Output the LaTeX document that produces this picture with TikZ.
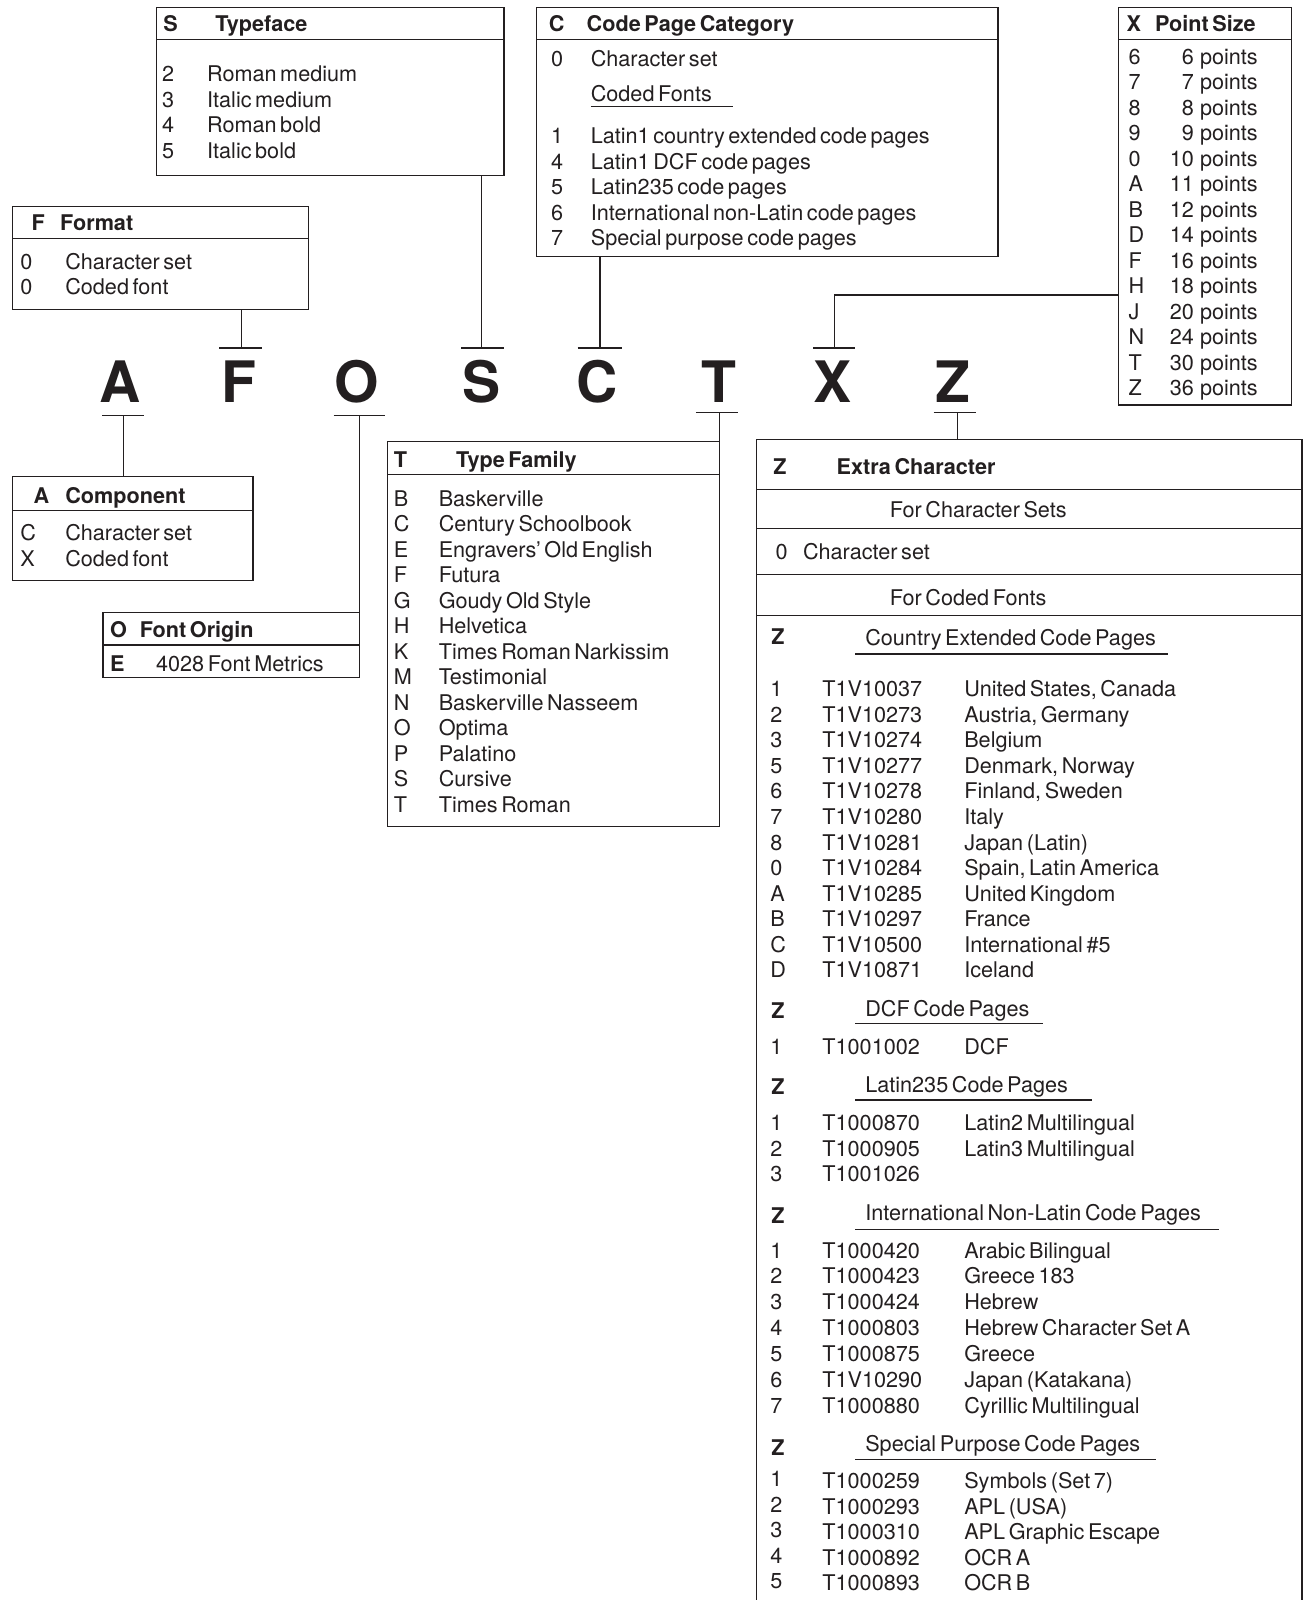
\documentclass[tikz,border=0pt]{standalone}
\usepackage{fontspec}
\setmainfont{TeX Gyre Heros}[WordSpace=0.6]
\usetikzlibrary{fit,calc}
\definecolor{ink}{RGB}{35,31,32}
\begin{document}
\begin{tikzpicture}[x=0.5pt,y=-0.5pt,line width=0.6pt,color=ink,
  t/.style={anchor=base west,inner sep=0pt,outer sep=0pt,yshift=-0.5pt,font=\fontsize{10.6}{12.5}\selectfont},
  tb/.style={t,font=\fontsize{10.6}{12.5}\selectfont\bfseries},
  tr/.style={t,anchor=base east},
  big/.style={anchor=base,inner sep=0pt,outer sep=0pt,font=\fontsize{28}{30}\selectfont\bfseries},
  box/.style={draw,inner sep=0pt,outer sep=0pt}]
\useasboundingbox (0,0) rectangle (1278,1568);

% ---------- big letters ----------
\node[big] (lA) at (118,394) {A};
\node[big] (lF) at (234,394) {F};
\node[big] (lO) at (350,394) {O};
\node[big] (lS) at (472,394) {S};
\node[big] (lC) at (585,394) {C};
\node[big] (lT) at (705,394) {T};
\node[big] (lX) at (816,394) {X};
\node[big] (lZ) at (934,394) {Z};

% ---------- S Typeface ----------
\node[box,fit={(153,7)(494,172)}] (Sbox) {};
\draw (153,39) -- (494,39);
\node[tb] (sh1) at (160,30) {S};
\node[tb] (sh2) at (211,30) {Typeface};
\foreach \c/\n [count=\k from 0] in {2/Roman medium,3/Italic medium,4/Roman bold,5/Italic bold}{
  \node[t] (sc\k) at (159,79+25*\k) {\c};
  \node[t] (sn\k) at (203,79+25*\k) {\n};
}

% ---------- C Code Page Category ----------
\node[box,fit={(526,7)(978,251)}] (Cbox) {};
\draw (526,39) -- (978,39);
\node[tb] (ch1) at (538,30) {C};
\node[tb] (ch2) at (575,30) {Code Page Category};
\node[t] (cc0) at (540,64) {0};
\node[t] (cn0) at (579,64) {Character set};
\node[t] (ccf) at (579,98) {Coded Fonts};
\draw (579,104) -- (718,104);
\foreach \c/\n [count=\k from 0] in {1/Latin1 country extended code pages,4/Latin1 DCF code pages,5/Latin235 code pages,6/International non-Latin code pages,7/Special purpose code pages}{
  \node[t] (ccc\k) at (540,140+25*\k) {\c};
  \node[t] (ccn\k) at (579,140+25*\k) {\n};
}

% ---------- X Point Size ----------
\node[box,fit={(1096,7)(1266,397)}] (Xbox) {};
\draw (1096,39) -- (1266,39);
\node[tb] (xh1) at (1104,30) {X};
\node[tb] (xh2) at (1132,30) {Point Size};
\foreach \c/\n [count=\k from 0] in {6/6,7/7,8/8,9/9,0/10,A/11,B/12,D/14,F/16,H/18,J/20,N/24,T/30,Z/36}{
  \node[t] (xc\k) at (1106,62+25*\k) {\c};
  \node[tr] (xn\k) at (1170,62+25*\k) {\n};
  \node[t] (xp\k) at (1176,62+25*\k) {points};
}

% ---------- F Format ----------
\node[box,fit={(12,202)(302,303)}] (Fbox) {};
\draw (12,234) -- (302,234);
\node[tb] (fh1) at (31,225) {F};
\node[tb] (fh2) at (59,225) {Format};
\node[t] (fc0) at (20,263) {0};
\node[t] (fn0) at (64,263) {Character set};
\node[t] (fc1) at (20,288) {0};
\node[t] (fn1) at (64,288) {Coded font};

% ---------- A Component ----------
\node[box,fit={(12,467)(248,569)}] (Abox) {};
\draw (12,500) -- (248,500);
\node[tb] (ah1) at (33,492) {A};
\node[tb] (ah2) at (64,492) {Component};
\node[t] (ac0) at (20,529) {C};
\node[t] (an0) at (64,529) {Character set};
\node[t] (ac1) at (20,554) {X};
\node[t] (an1) at (64,554) {Coded font};

% ---------- O Font Origin ----------
\node[box,fit={(101,600)(352,664)}] (Obox) {};
\draw (101,632) -- (352,632);
\node[tb] (oh1) at (108,624) {O};
\node[tb] (oh2) at (137,624) {Font Origin};
\node[tb] (oc0) at (108,657) {E};
\node[t] (on0) at (153,657) {4028 Font Metrics};

% ---------- T Type Family ----------
\node[box,fit={(380,433)(705,810)}] (Tbox) {};
\draw (380,465) -- (705,465);
\node[tb] (th1) at (386,457) {T};
\node[tb] (th2) at (447,457) {Type Family};
\foreach \c/\n [count=\k from 0] in {B/Baskerville,C/Century Schoolbook,E/Engravers’ Old English,F/Futura,G/Goudy Old Style,H/Helvetica,K/Times Roman Narkissim,M/Testimonial,N/Baskerville Nasseem,O/Optima,P/Palatino,S/Cursive,T/Times Roman}{
  \node[t] (tc\k) at (386,495+25*\k) {\c};
  \node[t] (tn\k) at (430,495+25*\k) {\n};
}

% ---------- Z Extra Character ----------
\node[inner sep=0pt,outer sep=0pt,fit={(741,431)(1276,1568)}] (Zbox) {};
\draw (Zbox.south west) -- (Zbox.north west) -- (Zbox.north east) -- (Zbox.south east);
\foreach \yy in {480,518,563,603}{ \draw (741,\yy) -- (1276,\yy); }
\node[tb] (zh1) at (758,464) {Z};
\node[tb] (zh2) at (820,464) {Extra Character};
\node[t] (zcs) at (872,506) {For Character Sets};
\node[t] (zc0) at (760,547) {0};
\node[t] (zn0) at (787,547) {Character set};
\node[t] (zcf) at (872,592) {For Coded Fonts};

% section 1
\node[tb] (z1z) at (756,631) {Z};
\node[t] (z1t) at (848,632) {Country Extended Code Pages};
\draw (838,641) -- (1145,641);
\foreach \c/\i/\n [count=\k from 0] in {1/T1V10037/{United States, Canada},2/T1V10273/{Austria, Germany},3/T1V10274/Belgium,5/T1V10277/{Denmark, Norway},6/T1V10278/{Finland, Sweden},7/T1V10280/Italy,8/T1V10281/Japan (Latin),0/T1V10284/{Spain, Latin America},A/T1V10285/United Kingdom,B/T1V10297/France,C/T1V10500/International \#5,D/T1V10871/Iceland}{
  \node[t] (z1c\k) at (755,682+25*\k) {\c};
  \node[t] (z1i\k) at (806,682+25*\k) {\i};
  \node[t] (z1n\k) at (945,682+25*\k) {\n};
}

% section 2
\node[tb] (z2z) at (756,997) {Z};
\node[t] (z2t) at (848,995) {DCF Code Pages};
\draw (838,1003) -- (1022,1003);
\node[t] (z2c0) at (755,1032) {1};
\node[t] (z2i0) at (806,1032) {T1001002};
\node[t] (z2n0) at (945,1032) {DCF};

% section 3
\node[tb] (z3z) at (756,1072) {Z};
\node[t] (z3t) at (848,1070) {Latin235 Code Pages};
\draw (838,1078) -- (1070,1078);
\foreach \c/\i/\n [count=\k from 0] in {1/T1000870/Latin2 Multilingual,2/T1000905/Latin3 Multilingual,3/T1001026/{}}{
  \node[t] (z3c\k) at (755,1107+25*\k) {\c};
  \node[t] (z3i\k) at (806,1107+25*\k) {\i};
  \node[t] (z3n\k) at (945,1107+25*\k) {\n};
}

% section 4
\node[tb] (z4z) at (756,1198) {Z};
\node[t] (z4t) at (848,1195) {International Non-Latin Code Pages};
\draw (838,1205) -- (1195,1205);
\foreach \c/\i/\n [count=\k from 0] in {1/T1000420/Arabic Bilingual,2/T1000423/Greece 183,3/T1000424/Hebrew,4/T1000803/Hebrew Character Set A,5/T1000875/Greece,6/T1V10290/Japan (Katakana),7/T1000880/Cyrillic Multilingual}{
  \node[t] (z4c\k) at (755,1232+25.3*\k) {\c};
  \node[t] (z4i\k) at (806,1232+25.3*\k) {\i};
  \node[t] (z4n\k) at (945,1232+25.3*\k) {\n};
}

% section 5
\node[tb] (z5z) at (756,1425) {Z};
\node[t] (z5t) at (848,1421) {Special Purpose Code Pages};
\draw (838,1430) -- (1133,1430);
\foreach \c/\i/\n [count=\k from 0] in {1/T1000259/Symbols (Set 7),2/T1000293/APL (USA),3/T1000310/APL Graphic Escape,4/T1000892/OCR A,5/T1000893/OCR B}{
  \node[t] (z5c\k) at (755,1456+25*\k) {\c};
  \node[t] (z5i\k) at (806,1458+25*\k) {\i};
  \node[t] (z5n\k) at (945,1458+25*\k) {\n};
}

% ---------- connectors ----------
\coordinate (bF) at (237,341);
\coordinate (bS) at (472,341);
\coordinate (bC) at (588,341);
\coordinate (bX) at (818,341);
\coordinate (jX) at (1096,289);
\coordinate (bA) at (121,407);
\coordinate (bO) at (352,407);
\coordinate (bT) at (705,404);
\coordinate (bZ) at (938,404);

\draw (Fbox.south -| bF) -- (bF) ($(bF)+(-22,0)$) -- ($(bF)+(20,0)$);
\draw (Sbox.south -| bS) -- (bS) ($(bS)+(-20,0)$) -- ($(bS)+(22,0)$);
\draw (Cbox.south -| bC) -- (bC) ($(bC)+(-22,0)$) -- ($(bC)+(22,0)$);
\draw (Xbox.west |- jX) -| (bX) ($(bX)+(-21,0)$) -- ($(bX)+(20,0)$);
\draw (Abox.north -| bA) -- (bA) ($(bA)+(-21,0)$) -- ($(bA)+(20,0)$);
\draw (Obox.north east) -- (bO) ($(bO)+(-25,0)$) -- ($(bO)+(25,0)$);
\draw (Tbox.north east) -- (bT) ($(bT)+(-23,0)$) -- ($(bT)+(18,0)$);
\draw (Zbox.north -| bZ) -- (bZ) ($(bZ)+(-23,0)$) -- ($(bZ)+(18,0)$);
\end{tikzpicture}
\end{document}
